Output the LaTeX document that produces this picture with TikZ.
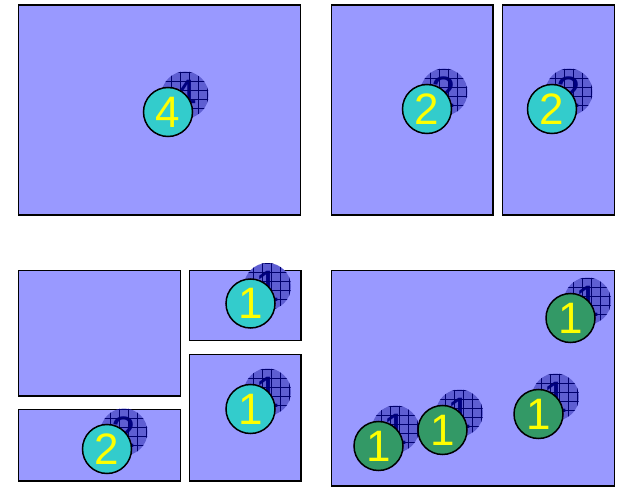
\documentclass[tikz,border=0pt]{standalone}
\usepackage{fontspec}
\setmainfont{Liberation Sans}
\definecolor{panelfill}{HTML}{9999FF}
\definecolor{cyanfill}{HTML}{33CCCC}
\definecolor{greenfill}{HTML}{339966}
\definecolor{digit}{HTML}{FFFF00}
\definecolor{navy}{HTML}{000080}
\definecolor{shadefill}{HTML}{5E5ED2}
\tikzset{
  panel/.style={draw=black, line width=1.6pt, fill=panelfill},
  fgcircle/.style={circle, draw=black, line width=1.5pt, inner sep=0pt,
    minimum size=49pt, text=digit, font=\fontsize{44}{44}\selectfont},
  shadecircle/.style={circle, fill=shadefill, inner sep=0pt,
    minimum size=47pt, text=navy, font=\fontsize{44}{44}\selectfont},
  gridline/.style={draw=navy!85!black, line width=0.5pt},
}
\usetikzlibrary{calc}
\newcommand\badge[5]{%
  \node[shadecircle] (#5s) at (#1+17,#2-17) {#3};
  \begin{scope}
    \clip (#5s.center) circle (23.5);
    \foreach \k in {-3,...,3}{
      \draw[gridline] ($(#5s.center)+(\k*9+4,-30)$) -- ($(#5s.center)+(\k*9+4,30)$);
      \draw[gridline] ($(#5s.center)+(-30,\k*9+4)$) -- ($(#5s.center)+(30,\k*9+4)$);
    }
  \end{scope}
  \node[fgcircle, fill=#4] (#5) at (#1,#2) {#3};
}
\begin{document}
\begin{tikzpicture}[x=1pt,y=-1pt]
\useasboundingbox (0,0) rectangle (619,487);
% panels
\draw[panel] (18.5,5) rectangle (300.5,215);
\draw[panel] (331.5,5) rectangle (493,215);
\draw[panel] (502.5,5) rectangle (614.5,215);
\draw[panel] (18.5,270.5) rectangle (180.5,396);
\draw[panel] (18.5,409.5) rectangle (180.5,481);
\draw[panel] (189.5,270.5) rectangle (301,340.5);
\draw[panel] (189.5,354.5) rectangle (301,481);
\draw[panel] (331.5,270.5) rectangle (614.5,486);
% badges
\badge{168}{112}{4}{cyanfill}{a}
\badge{427}{109}{2}{cyanfill}{b}
\badge{552}{109}{2}{cyanfill}{c}
\badge{107}{449}{2}{cyanfill}{d}
\badge{250.5}{303.5}{1}{cyanfill}{e}
\badge{250.5}{409}{1}{cyanfill}{f}
\badge{378.5}{446}{1}{greenfill}{g}
\badge{442.5}{430}{1}{greenfill}{h}
\badge{538.5}{414}{1}{greenfill}{i}
\badge{570.5}{318}{1}{greenfill}{j}
\end{tikzpicture}
\end{document}
